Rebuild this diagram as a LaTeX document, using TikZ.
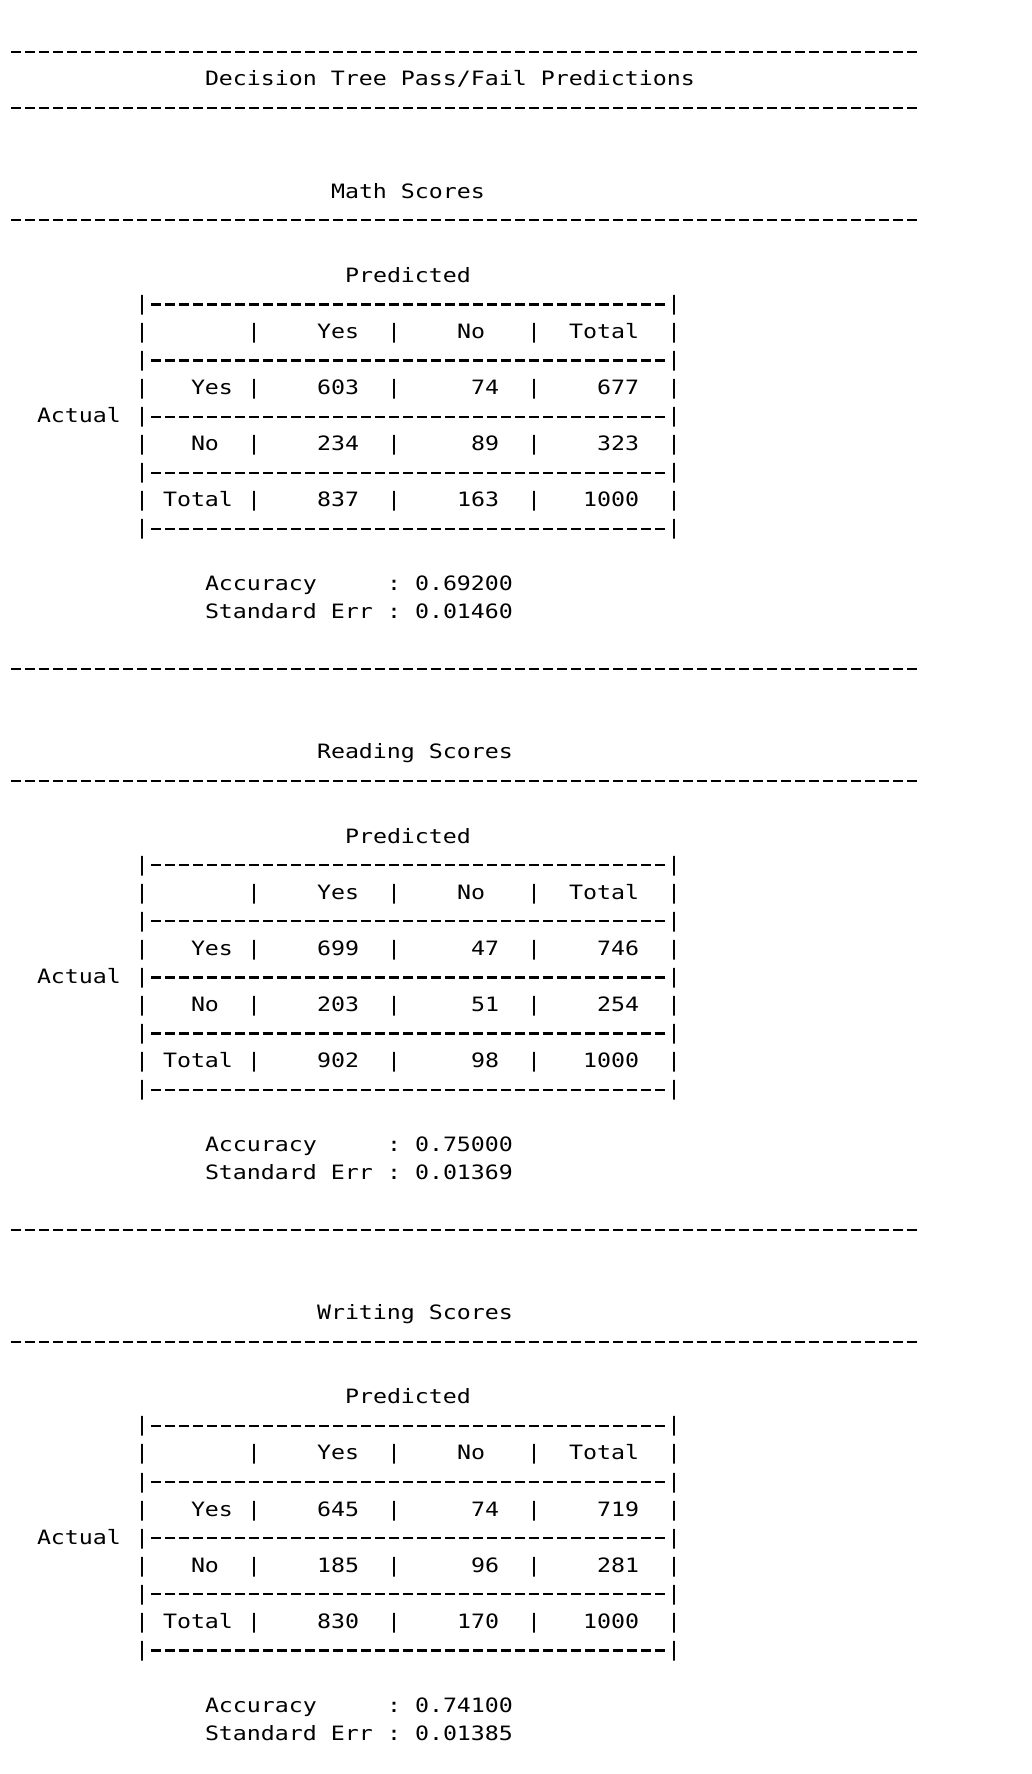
\documentclass[tikz,border=0pt]{standalone}
\usepackage{fontspec}
\usepackage{graphicx}
\newfontfamily\monof{DejaVu Sans Mono}
\newcounter{tc}
\tikzset{
  txt/.style={anchor=base west, inner sep=0pt, outer sep=0pt, text=black,
    font=\monof\fontsize{11.627pt}{14pt}\selectfont},
  txtr/.style={txt, anchor=base east},
  dashrule/.style={line width=1.1pt, dash pattern=on 5pt off 2pt, black}
}
% column/line grid in pixels: x = 9 + 14*col, baseline y = 57.94 + 28.04*line
\newcommand\T[3]{\stepcounter{tc}\node[txt] (t\arabic{tc}) at ({9+(#1)*14},{57.94+(#2)*28.04}) {\scalebox{1}[0.85]{#3}};}
\newcommand\R[3]{\stepcounter{tc}\node[txtr] (t\arabic{tc}) at ({9+(#1)*14},{57.94+(#2)*28.04}) {\scalebox{1}[0.85]{#3}};}
\newcommand\D[3]{\draw[dashrule] ({9+(#1)*14+2},{57.94+(#3)*28.04-5.8}) -- ++({(#2)*14-4},0);}
\begin{document}
\begin{tikzpicture}[x=0.5pt,y=-0.5pt]
\fill[white] (0,0) rectangle (1032,1774);
\useasboundingbox (0,0) rectangle (1032,1774);
\D{0}{65}{0}
\T{14}{1}{Decision Tree Pass/Fail Predictions}
\D{0}{65}{2}
\foreach \s/\ttl/\tcol/\va/\vb/\vc/\vd/\ve/\vf/\vg/\vh/\vi/\acc/\se in {
  0/Math Scores/23/603/74/677/234/89/323/837/163/1000/0.69200/0.01460,
  1/Reading Scores/22/699/47/746/203/51/254/902/98/1000/0.75000/0.01369,
  2/Writing Scores/22/645/74/719/185/96/281/830/170/1000/0.74100/0.01385}{
  \pgfmathtruncatemacro\o{20*\s}
  \T{\tcol}{\o+5}{\ttl}
  \D{0}{65}{\o+6}
  \T{24}{\o+8}{Predicted}
  % table frame
  \foreach \k in {9,...,17}{
    \T{9}{\o+\k}{|}
    \T{47}{\o+\k}{|}
  }
  \foreach \k in {9,11,13,15,17}{
    \D{10}{37}{\o+\k}
  }
  \foreach \k in {10,12,14,16}{
    \T{17}{\o+\k}{|}
    \T{27}{\o+\k}{|}
    \T{37}{\o+\k}{|}
  }
  % header
  \T{22}{\o+10}{Yes}
  \T{32}{\o+10}{No}
  \T{40}{\o+10}{Total}
  % rows
  \T{13}{\o+12}{Yes}
  \T{22}{\o+12}{\va}
  \R{35}{\o+12}{\vb}
  \R{45}{\o+12}{\vc}
  \T{2}{\o+13}{Actual}
  \T{13}{\o+14}{No}
  \T{22}{\o+14}{\vd}
  \R{35}{\o+14}{\ve}
  \R{45}{\o+14}{\vf}
  \T{11}{\o+16}{Total}
  \T{22}{\o+16}{\vg}
  \R{35}{\o+16}{\vh}
  \R{45}{\o+16}{\vi}
  % statistics
  \T{14}{\o+19}{Accuracy}
  \T{27}{\o+19}{:}
  \T{29}{\o+19}{\acc}
  \T{14}{\o+20}{Standard Err}
  \T{27}{\o+20}{:}
  \T{29}{\o+20}{\se}
  \ifnum\s<2 \D{0}{65}{\o+22}\fi
}
\end{tikzpicture}
\end{document}
